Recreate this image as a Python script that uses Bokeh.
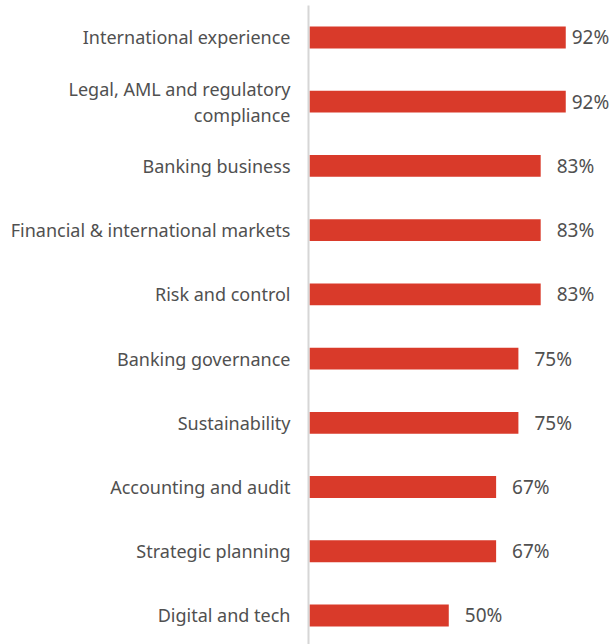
from bokeh.plotting import figure
from bokeh.models import ColumnDataSource, Range1d, FixedTicker
from bokeh.core.properties import value
from bokeh.embed import file_html
from bokeh.resources import INLINE

categories = [
    "International experience",
    "Legal, AML and regulatory\ncompliance",
    "Banking business",
    "Financial & international markets",
    "Risk and control",
    "Banking governance",
    "Sustainability",
    "Accounting and audit",
    "Strategic planning",
    "Digital and tech",
]
values = [92, 92, 83, 83, 83, 75, 75, 67, 67, 50]
value_labels = ["92%", "92%", "83%", "83%", "83%", "75%", "75%", "67%", "67%", "50%"]

n = len(categories)
ypos = [n - 1 - i for i in range(n)]
# labels near the right edge are pulled closer to the bar so they fit
offsets = [6 if v >= 90 else 16 for v in values]

src = ColumnDataSource(dict(y=ypos, v=values, lab=value_labels, xo=offsets))

FONT = "Noto Sans"
TXT = "#505050"

p = figure(width=614, height=644, output_backend="svg", toolbar_location=None,
           x_range=Range1d(-0.36, 109.5), y_range=Range1d(-0.452, 9.498),
           x_axis_location=None, min_border_left=308, min_border_right=0,
           min_border_top=5, min_border_bottom=0)
p.outline_line_color = None
p.xgrid.visible = False
p.ygrid.visible = False

p.hbar(y="y", right="v", left=0, height=0.34, source=src,
       fill_color="#D93A2A", line_color=None)
p.text(x="v", y="y", text="lab", source=src, x_offset="xo",
       text_baseline="middle", text_align="left",
       text_font=value(FONT), text_font_size="19px", text_color=TXT)

ax = p.yaxis[0]
ax.ticker = FixedTicker(ticks=ypos)
ax.major_label_overrides = {y: c for y, c in zip(ypos, categories)}
ax.axis_line_color = "#d6d6d6"
ax.axis_line_width = 2
ax.major_tick_line_color = None
ax.minor_tick_line_color = None
ax.major_label_standoff = 12
ax.major_label_text_font = FONT
ax.major_label_text_font_size = "18px"
ax.major_label_text_color = TXT
ax.major_label_text_align = "right"
ax.major_label_text_line_height = 1.1

open("out.html", "w").write(file_html(p, INLINE))
